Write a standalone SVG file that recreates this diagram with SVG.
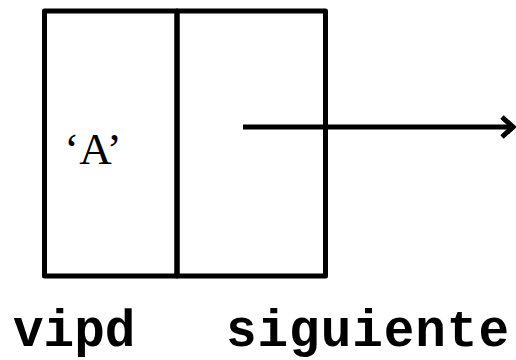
<svg xmlns="http://www.w3.org/2000/svg" width="516" height="360" viewBox="0 0 516 360">
<style>
.box{fill:none;stroke:#000;stroke-width:5;stroke-linejoin:round}
.conn{fill:none;stroke:#000;stroke-width:5}
.val{font-family:"Liberation Serif","Times New Roman",serif;font-size:45px;fill:#000}
.lbl{font-family:"Liberation Mono","Courier New",monospace;font-weight:bold;font-size:51px;fill:#000}
</style>
<rect width="516" height="360" fill="#fff"/>
<g id="node-vipd">
<rect class="box" x="44.5" y="11" width="132.5" height="265"/>
<text class="val" x="93" y="164" text-anchor="middle">‘A’</text>
</g>
<g id="node-siguiente">
<rect class="box" x="177" y="11" width="148.5" height="265"/>
</g>
<g id="connectors">
<line class="conn" x1="243" y1="127" x2="512" y2="127"/>
<polyline class="conn" points="502,117 513,127 502,137"/>
</g>
<g id="labels">
<text class="lbl" x="13" y="346">vipd</text>
<text class="lbl" x="226" y="346" textLength="283">siguiente</text>
</g>
</svg>
